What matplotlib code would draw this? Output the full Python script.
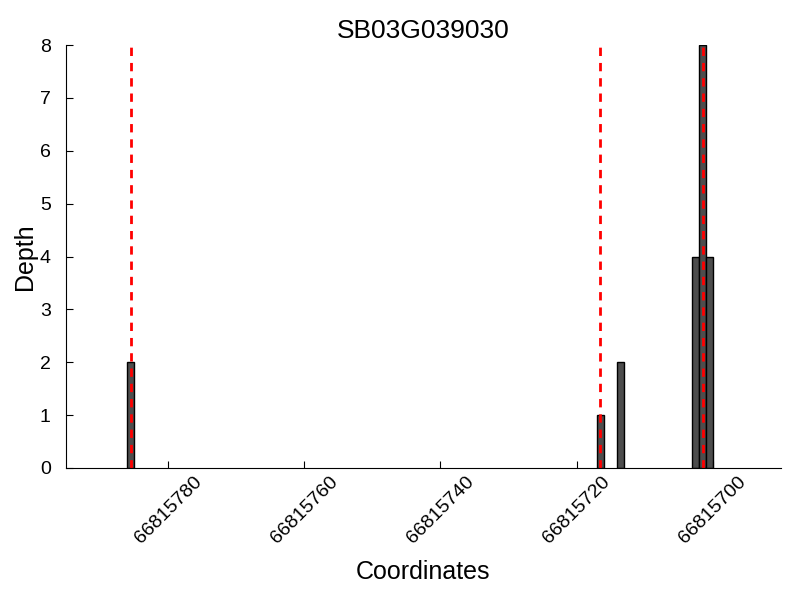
import matplotlib
matplotlib.use("Agg")
import matplotlib.pyplot as plt

plt.rcParams['font.family'] = ['Liberation Sans', 'DejaVu Sans']

title = "SB03G039030"
positions = [66815785, 66815716, 66815713, 66815702, 66815701, 66815700]
depths = [2, 1, 2, 4, 8, 4]
marker_lines = [66815785.5, 66815716.5, 66815701.5]
xticks = [66815780, 66815760, 66815740, 66815720, 66815700]
yticks = [0, 1, 2, 3, 4, 5, 6, 7, 8]

fig = plt.figure(figsize=(8, 6), dpi=100)
ax = fig.add_axes([0.0825, 0.22, 0.8935, 0.705])

ax.bar(positions, depths, width=1, align='edge', color='#4d4d4d',
       edgecolor='black', linewidth=1)
for xv in marker_lines:
    ax.axvline(xv, color='red', linestyle=(0, (3, 2.5)), linewidth=2)

ax.set_xlim(66815795, 66815690)
ax.set_ylim(0, 8)
ax.set_xticks(xticks)
ax.set_xticklabels([str(v) for v in xticks], rotation=45, fontsize=14)
ax.set_yticks(yticks)
ax.set_yticklabels([str(v) for v in yticks], fontsize=14)
ax.tick_params(direction='in', length=5, top=False, right=False)
ax.tick_params(axis='y', pad=11)
ax.spines['top'].set_visible(False)
ax.spines['right'].set_visible(False)
ax.set_xlabel("Coordinates", fontsize=18, labelpad=10)
ax.set_ylabel("Depth", fontsize=18, labelpad=2)
ax.set_title(title, fontsize=19, pad=5)

fig.savefig("out.png", dpi=100)
